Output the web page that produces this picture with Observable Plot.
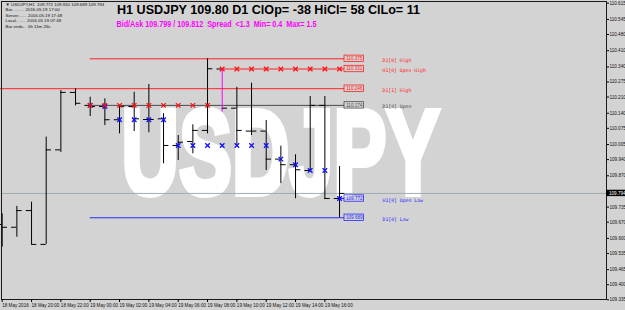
<!DOCTYPE html>
<html><head><meta charset="utf-8">
<script src="https://cdn.jsdelivr.net/npm/d3@7"></script>
<script src="https://cdn.jsdelivr.net/npm/@observablehq/plot@0.6"></script>
<style>html,body{margin:0;padding:0;background:#d3d3d3;overflow:hidden}</style>
</head><body><div id="chart"></div>
<script>
// ---- data ----
const barTimes = ["18 May 18:00","18 May 19:00","18 May 20:00","18 May 21:00","18 May 22:00","18 May 23:00",
  "19 May 00:00","19 May 01:00","19 May 02:00","19 May 03:00","19 May 04:00","19 May 05:00","19 May 06:00",
  "19 May 07:00","19 May 08:00","19 May 09:00","19 May 10:00","19 May 11:00","19 May 12:00","19 May 13:00",
  "19 May 14:00","19 May 15:00","19 May 16:00","19 May 17:00"];
const opens  = [109.660,109.648,109.720,109.574,109.982,110.230,110.174,110.169,110.112,110.169,110.113,110.116,110.001,110.018,110.066,110.331,110.162,110.063,110.063,109.942,109.918,109.893,110.174,109.772];
const highs  = [109.706,109.738,109.756,110.037,110.238,110.246,110.209,110.202,110.174,110.231,110.264,110.138,110.044,110.090,110.375,110.331,110.252,110.270,110.109,109.998,109.961,110.212,110.212,109.910];
const lows   = [109.562,109.605,109.574,109.574,109.971,110.172,110.126,110.087,110.051,110.061,110.056,109.922,109.936,109.965,110.051,110.145,109.998,110.044,109.893,109.836,109.771,109.886,109.768,109.689];
const closes = [109.648,109.720,109.574,109.982,110.230,110.183,110.169,110.112,110.170,110.116,110.113,110.001,110.015,110.066,110.332,110.162,110.066,110.063,109.942,109.918,109.896,110.174,109.772,109.794];

const markerBars  = [6,7,8,9,10,11,12,13,14,15,16,17,18,19,20,21,22,23];
const openHighRun = [110.174,110.174,110.174,110.174,110.174,110.174,110.174,110.174,110.174,110.331,110.331,110.331,110.331,110.331,110.331,110.331,110.331,110.331];
const openLowRun  = [110.174,110.169,110.112,110.112,110.112,110.112,110.001,110.001,110.001,110.001,110.001,110.001,110.001,109.942,109.918,109.893,109.893,109.772];

const levelNames    = ["D1[0] High","H1[0] Open High","D1[1] High","D1[0] Open","H1[0] Open Low","D1[0] Low"];
const levelValues   = [110.375,110.331,110.246,110.174,109.772,109.689];
const levelStartBar = [6,15,-0.2,6,23,6];
const levelKind     = ["hi","hi","hi","open","lo","lo"];

const currentPrice = 109.794;

const yTickValues = [110.615,110.545,110.480,110.410,110.340,110.275,110.210,110.140,110.075,110.005,109.940,109.870,109.800,109.735,109.670,109.600,109.535,109.465,109.400,109.335];
const yTickLabels = ["110.615","110.545","110.480","110.410","110.340","110.275","110.210","110.140","110.075","110.005","109.940","109.870","109.800","109.735","109.670","109.600","109.535","109.465","109.400","109.335"];
const timeTickIdx    = [0,2,4,6,8,10,12,14,16,18,20,22];
const timeTickLabels = ["18 May 2016","18 May 20:00","18 May 22:00","19 May 00:00","19 May 02:00","19 May 04:00","19 May 06:00","19 May 08:00","19 May 10:00","19 May 12:00","19 May 14:00","19 May 16:00"];

const titleText = "H1 USDJPY 109.80 D1 ClOp= -38 HiCl= 58 ClLo= 11";
const subtitleText = "Bid/Ask 109.799 / 109.812  Spread  <1.3  Min= 0.4  Max= 1.5";
const infoLines = ["\u25BC USDJPY,H1  109.772 109.910 109.689 109.794",
  "Bar.......... 2016.05.19 17:00",
  "Server....... 2016.05.19 17:48",
  "Local........ 2016.05.19 07:48",
  "Bar ends..  0h 11m 26s"];
const watermark = "USDJPY";

// ---- styles ----
const kindColor = {hi:"#ff2020", open:"#4a4a4a", lo:"#2828ff"};
const W = 625, H = 310;
const BARPX = 14.667, X0 = 1.7;
const pxX = px => (px - X0) / BARPX;          // pixel -> bar index (for annotation placement)
const PXY = 231.7;                               // pixels per price unit
const boxX1 = pxX(344), boxX2 = pxX(363.5), nameX = pxX(382);
const halfBox = 3.2 / PXY;

const bars = barTimes.map((t,i)=>({i, t, o:opens[i], h:highs[i], l:lows[i], c:closes[i]}));
const levels = levelNames.map((n,i)=>({n, v:levelValues[i], s:levelStartBar[i], col:kindColor[levelKind[i]]}));
const mk = markerBars.map((b,i)=>({b, hi:openHighRun[i], lo:openLowRun[i]}));

const marks = [
  Plot.text([watermark], {text:d=>d, frameAnchor:"middle", dx:-23.5, dy:5.1, fontSize:120, fontWeight:"bold", fill:"#ffffff", stroke:"#ffffff", strokeWidth:6, strokeLinejoin:"miter", fontFamily:"Liberation Sans, Arial, sans-serif"}),
  Plot.ruleY([currentPrice], {stroke:"#a0a9b2", strokeWidth:1}),
];
levels.forEach(L => {
  marks.push(Plot.ruleY([L], {y:"v", x1:"s", x2:boxX1, stroke:L.col, strokeWidth:1}));
});
marks.push(
  Plot.ruleX(bars.filter(d=>d.i!==15), {x:"i", y1:"l", y2:"h", stroke:"#000", strokeWidth:1}),
  Plot.ruleX(bars.filter(d=>d.i===15), {x:"i", y1:"l", y2:"h", stroke:"#ff00ff", strokeWidth:1}),
  Plot.ruleY(bars, {y:"o", x1:d=>d.i-0.36, x2:"i", stroke:"#000", strokeWidth:1}),
  Plot.ruleY(bars, {y:"c", x1:"i", x2:d=>d.i+0.36, stroke:"#000", strokeWidth:1}),
  Plot.dot(mk, {x:"b", y:"lo", symbol:"times", r:2.2, stroke:"#1010ff", strokeWidth:1.3}),
  Plot.dot(mk, {x:"b", y:"hi", symbol:"times", r:2.2, stroke:"#ff1010", strokeWidth:1.3}),
);
levels.forEach(L => {
  marks.push(
    Plot.rect([L], {x1:boxX1, x2:boxX2, y1:d=>d.v-halfBox, y2:d=>d.v+halfBox, fill:"none", stroke:L.col, strokeWidth:0.8}),
    Plot.text([L], {x:(boxX1+boxX2)/2, y:"v", text:d=>d.v.toFixed(3), fill:L.col, fontSize:4.6}),
    Plot.text([L], {x:nameX, y:"v", dy:1.5, text:"n", fill:L.col, textAnchor:"start", fontSize:4.8, fontFamily:"DejaVu Sans Mono, monospace"})
  );
});
marks.push(
  Plot.frame({stroke:"#1a1a1a", strokeWidth:1}),
  Plot.axisY({anchor:"right", ticks:yTickValues, tickFormat:d=>yTickLabels[yTickValues.indexOf(d)], tickSize:2, tickPadding:1, fontSize:4.6, stroke:"#000", fill:"#111"}),
  Plot.axisX({anchor:"bottom", ticks:timeTickIdx, tickFormat:d=>timeTickLabels[timeTickIdx.indexOf(d)], textAnchor:"start", tickSize:3, tickPadding:1, fontSize:4.6, stroke:"#000", fill:"#111"}),
  Plot.rect([currentPrice], {x1:pxX(606), x2:pxX(626), y1:d=>d-halfBox, y2:d=>d+halfBox, fill:"#000"}),
  Plot.text([currentPrice], {x:pxX(608.5), y:d=>d, text:d=>d.toFixed(3), fill:"#fff", textAnchor:"start", fontSize:4.6}),
  Plot.text([titleText], {text:d=>d, frameAnchor:"top-left", dx:115.5, dy:3.6, lineAnchor:"top", textAnchor:"start", fontSize:13, fontWeight:"bold", fill:"#000"}),
  Plot.text([subtitleText], {text:d=>d, frameAnchor:"top-left", dx:115, dy:19.5, lineAnchor:"top", textAnchor:"start", fontSize:8.4, fontWeight:"bold", fill:"#ff00ff"}),
  Plot.text(infoLines, {text:d=>d, frameAnchor:"top-left", dx:2, dy:0, lineAnchor:"middle", textAnchor:"start", fontSize:4.4, fill:"#111"})
);

const plot = Plot.plot({
  width: W, height: H,
  marginTop: 1, marginLeft: 1, marginRight: 19, marginBottom: 11,
  x: {type:"linear", domain:[0,23], range:[X0, X0 + 23*BARPX], axis:null},
  y: {type:"linear", domain:[109.335,110.615], range:[2.7 + 1.28*PXY, 2.7], axis:null},
  style: {background:"#d3d3d3", fontFamily:"Liberation Sans, Arial, sans-serif", overflow:"visible"},
  marks
});
document.getElementById("chart").appendChild(plot);

// post-adjustments: fit widths and preserve spaces
const fit = {"USDJPY":318};
fit[titleText] = 303;
fit[subtitleText] = 200;
plot.querySelectorAll("text").forEach(t => {
  const s = t.textContent;
  t.style.whiteSpace = "pre";
  if (fit[s]) { t.setAttribute("textLength", fit[s]); t.setAttribute("lengthAdjust", "spacingAndGlyphs"); }
});
// info lines vertical spacing
const infoY = [5, 10.7, 16.3, 21.7, 27];
plot.querySelectorAll("text").forEach(t => {
  const k = infoLines.indexOf(t.textContent);
  if (k >= 0) { t.setAttribute("transform", `translate(3,${infoY[k]})`); t.removeAttribute("x"); t.removeAttribute("y"); }
});
</script></body></html>
